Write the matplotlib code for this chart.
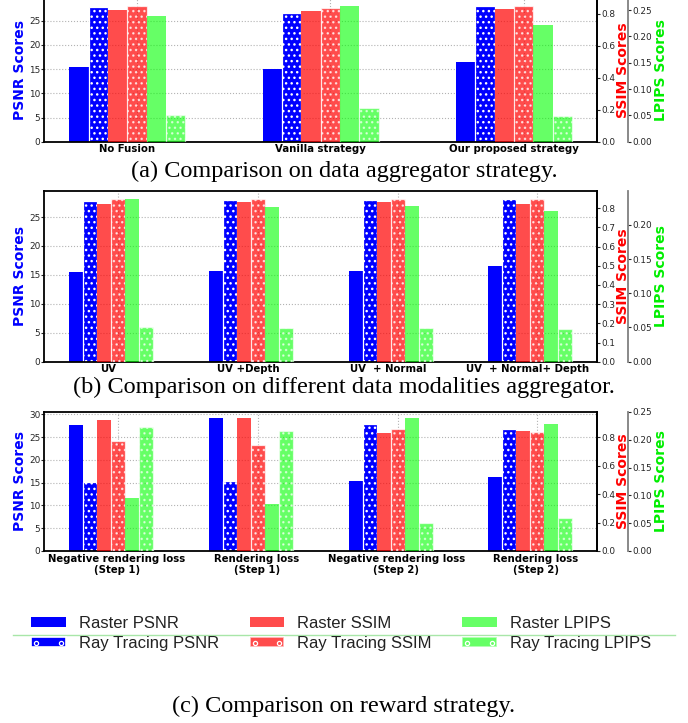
import numpy as np
import matplotlib
matplotlib.use('Agg')
import matplotlib.pyplot as plt
from matplotlib.patches import Patch
from matplotlib.lines import Line2D
from matplotlib.ticker import MultipleLocator
from matplotlib.legend_handler import HandlerTuple, HandlerLine2D

# ---------------- data ----------------
cats_a = ['No Fusion', 'Vanilla strategy', 'Our proposed strategy']
raster_psnr_a = [15.5, 15.05, 16.55]
rt_psnr_a = [27.8, 26.6, 28.1]
raster_ssim_a = [0.825, 0.815, 0.827]
rt_ssim_a = [0.850, 0.838, 0.850]
raster_lpips_a = [0.239, 0.258, 0.222]
rt_lpips_a = [0.0507, 0.0645, 0.0488]

cats_b = ['UV', 'UV +Depth', 'UV  + Normal', 'UV  + Normal+ Depth']
raster_psnr_b = [15.5, 15.7, 15.7, 16.55]
rt_psnr_b = [27.85, 27.95, 27.95, 28.15]
raster_ssim_b = [0.823, 0.830, 0.835, 0.823]
rt_ssim_b = [0.849, 0.849, 0.849, 0.849]
raster_lpips_b = [0.238, 0.226, 0.228, 0.220]
rt_lpips_b = [0.050, 0.0487, 0.0487, 0.0473]

cats_c = ['Negative rendering loss\n(Step 1)', 'Rendering loss\n(Step 1)',
          'Negative rendering loss\n(Step 2)', 'Rendering loss\n(Step 2)']
raster_psnr_c = [27.6, 29.1, 15.33, 16.2]
rt_psnr_c = [15.18, 15.4, 27.8, 26.7]
raster_ssim_c = [0.917, 0.931, 0.826, 0.840]
rt_ssim_c = [0.770, 0.746, 0.854, 0.837]
raster_lpips_c = [0.095, 0.0843, 0.2386, 0.2279]
rt_lpips_c = [0.2225, 0.2153, 0.0502, 0.0586]

series_labels = ['Raster PSNR', 'Ray Tracing PSNR', 'Raster SSIM',
                 'Ray Tracing SSIM', 'Raster LPIPS', 'Ray Tracing LPIPS']
captions = ['(a) Comparison on data aggregator strategy.',
            '(b) Comparison on different data modalities aggregator.',
            '(c) Comparison on reward strategy.']

# ---------------- style ----------------
BLUE = '#0000ff'
RED = 'red'
GREEN = 'lime'
HATCH = '...'
TICKC = '#262626'
GRIDC = '#b3b3b3'
plt.rcParams['hatch.linewidth'] = 1.0
plt.rcParams['font.family'] = ['DejaVu Sans']

W, H = 688, 723
fig = plt.figure(figsize=(W / 100, H / 100), dpi=100)


def rect(top_px, bottom_px, left_px=44.3, right_px=597.3):
    return [left_px / W, 1 - bottom_px / H, (right_px - left_px) / W,
            (bottom_px - top_px) / H]


def panel(r, cats, rp, tp, rs, ts, rl, tl, ssim_step, psnr_step, tick_off):
    ax1 = fig.add_axes(r)
    ax2 = ax1.twinx()
    ax3 = ax1.twinx()
    x = np.arange(len(cats))
    w = 0.1
    ax1.bar(x - 2.5 * w, rp, w, color=BLUE, zorder=2, linewidth=0)
    ax1.bar(x - 1.5 * w, tp, w, color=BLUE, edgecolor='white', hatch=HATCH,
            linewidth=0.9, zorder=2)
    ax2.bar(x - 0.5 * w, rs, w, color=RED, alpha=0.7, linewidth=0)
    ax2.bar(x + 0.5 * w, ts, w, color=RED, alpha=0.7, edgecolor='white',
            hatch=HATCH, linewidth=0.9)
    ax3.bar(x + 1.5 * w, rl, w, color=GREEN, alpha=0.6, linewidth=0)
    ax3.bar(x + 2.5 * w, tl, w, color=GREEN, alpha=0.6, edgecolor='white',
            hatch=HATCH, linewidth=0.9)

    ax1.set_axisbelow(True)
    ax1.yaxis.grid(True, linestyle=':', color=GRIDC, linewidth=0.8)
    for g in x:
        ax1.axvline(g + 0.5 * w, linestyle=':', color=GRIDC,
                    linewidth=0.8, zorder=0.5)

    ax1.set_xticks(x + tick_off)
    ax1.set_xticklabels(cats, fontsize=7.3, fontweight='bold', color='black',
                        linespacing=1.15)
    ax1.tick_params(axis='x', length=0, pad=2)

    ax1.yaxis.set_major_locator(MultipleLocator(psnr_step))
    ax2.yaxis.set_major_locator(MultipleLocator(ssim_step))
    ax3.yaxis.set_major_locator(MultipleLocator(0.05))
    for a in (ax1, ax2, ax3):
        a.tick_params(axis='y', labelsize=6.4, length=2, width=0.8, pad=1,
                      labelcolor=TICKC, color=TICKC)

    for s in ax1.spines.values():
        s.set_linewidth(1.3)
        s.set_color('black')
    for k, s in ax2.spines.items():
        s.set_linewidth(1.3)
        s.set_color('black')
        if k != 'right':
            s.set_visible(False)
    for k, s in ax3.spines.items():
        s.set_visible(k == 'right')
    ax3.spines['right'].set_position(('axes', 1.055))
    ax3.spines['right'].set_color('#808080')
    ax3.spines['right'].set_linewidth(1.3)

    lab = dict(rotation=90, ha='center', va='center', fontsize=10,
               fontweight='bold')
    ax1.text(-0.0448, 0.5, 'PSNR Scores', color=BLUE, transform=ax1.transAxes, **lab)
    ax1.text(1.0465, 0.5, 'SSIM Scores', color='red', transform=ax1.transAxes, **lab)
    ax1.text(1.1152, 0.5, 'LPIPS Scores', color='#00ee00', transform=ax1.transAxes, **lab)
    return ax1


panel(rect(-1, 141.7), cats_a, raster_psnr_a, rt_psnr_a, raster_ssim_a,
      rt_ssim_a, raster_lpips_a, rt_lpips_a, 0.2, 5, 0.0)
panel(rect(190.7, 361.7), cats_b, raster_psnr_b, rt_psnr_b, raster_ssim_b,
      rt_ssim_b, raster_lpips_b, rt_lpips_b, 0.1, 5, -0.02)
panel(rect(411.7, 551), cats_c, raster_psnr_c, rt_psnr_c, raster_ssim_c,
      rt_ssim_c, raster_lpips_c, rt_lpips_c, 0.2, 5, 0.04)

# captions
for cap, yc in zip(captions, [171, 387, 706]):
    fig.text(0.5, 1 - yc / H, cap, ha='center', va='center', fontsize=17.5,
             family=['Liberation Serif', 'DejaVu Serif'], color='black')

# legend
colors = [BLUE, BLUE, RED, RED, GREEN, GREEN]
alphas = [1, 1, 0.7, 0.7, 0.6, 0.6]
handles = []
for i, (lbl, c, al) in enumerate(zip(series_labels, colors, alphas)):
    if i % 2 == 0:
        handles.append(Patch(facecolor=c, alpha=al, linewidth=0))
    else:
        p = Patch(facecolor=c, alpha=al, edgecolor='white', linewidth=1.2)
        dots = Line2D([], [], linestyle='none', marker='o', markersize=3.0,
                      markerfacecolor='none', markeredgecolor='white',
                      markeredgewidth=0.9)
        handles.append((p, dots))
leg = fig.legend(handles=handles, labels=series_labels, loc='center', ncol=3,
                 frameon=False, bbox_to_anchor=(341 / W, 1 - 633.5 / H),
                 prop={'family': ['Liberation Sans', 'DejaVu Sans'], 'size': 12},
                 handlelength=2.05, handleheight=0.56, handletextpad=0.78,
                 columnspacing=1.86, labelspacing=0.3,
                 handler_map={tuple: HandlerTuple(ndivide=1, pad=0),
                              Line2D: HandlerLine2D(numpoints=2, marker_pad=0.3)})
for t in leg.get_texts():
    t.set_color('#222222')

fig.add_artist(Line2D([13 / W, 675 / W], [1 - 635 / H, 1 - 635 / H],
                      color='#a8e6a8', linewidth=1.0, transform=fig.transFigure))

fig.savefig('out.png', dpi=100)
